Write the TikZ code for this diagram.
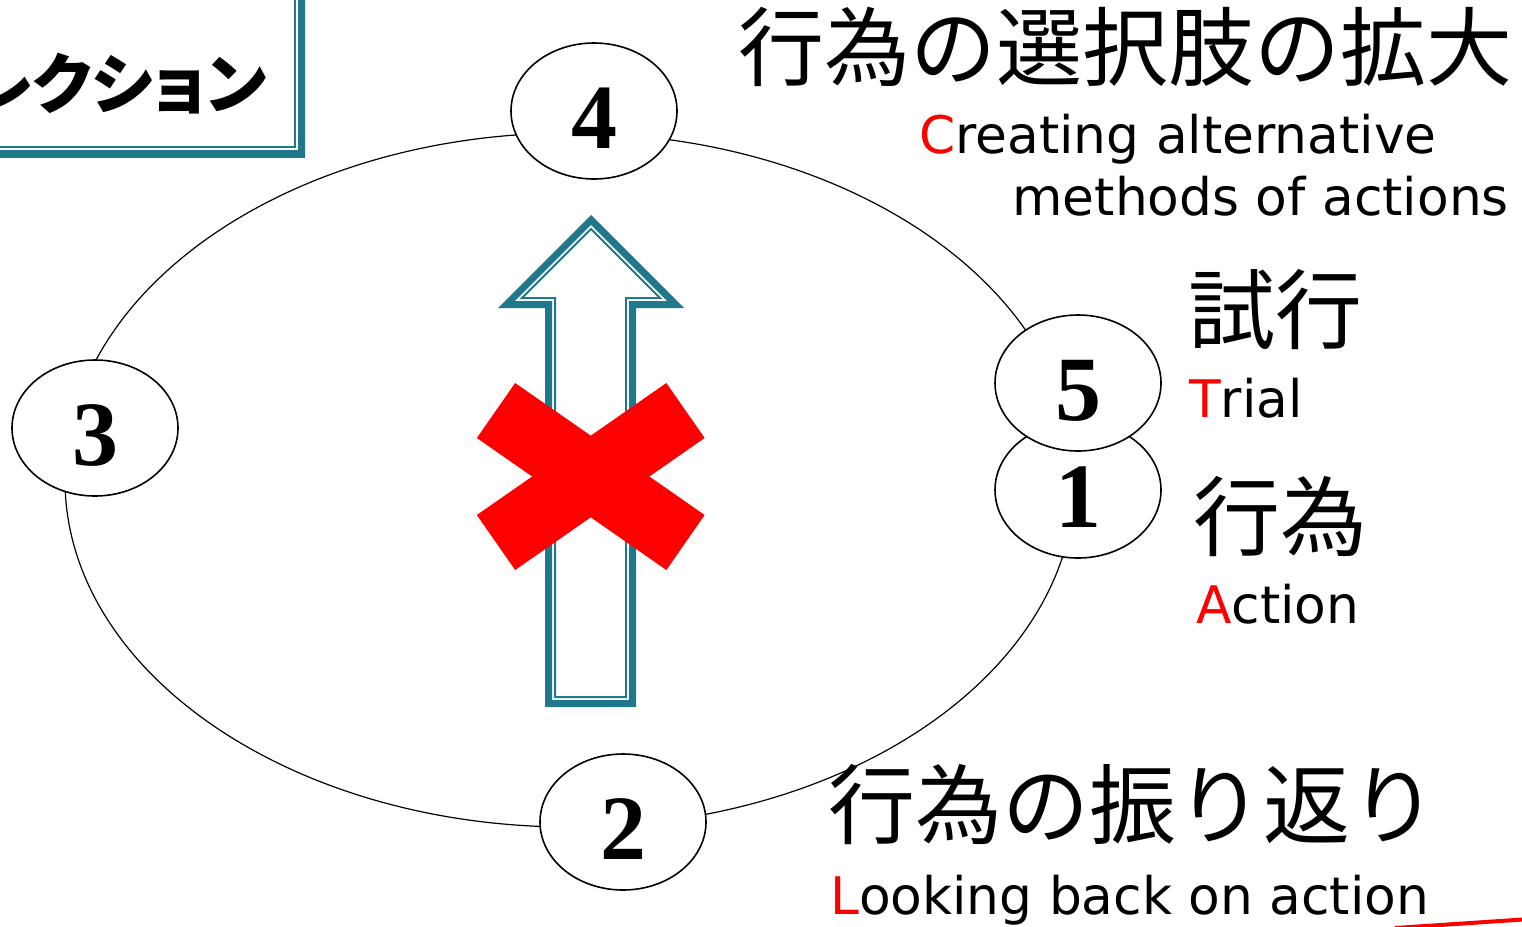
\documentclass[tikz,border=0pt]{standalone}
\usepackage{fontspec}
\setmainfont{DejaVu Sans}
\newfontfamily\jpfont{Noto Sans CJK JP}
\newfontfamily\jpboxfont{Noto Sans CJK JP}[RawFeature=+palt]
\newfontfamily\numfont{Liberation Serif}
\usetikzlibrary{shapes.geometric}
\definecolor{frameteal}{RGB}{31,120,140}
\begin{document}
\begin{tikzpicture}[x=1pt,y=-1pt,
  numnode/.style={ellipse, draw, line width=1.6pt, fill=white, minimum width=166pt, minimum height=136pt, inner sep=0pt, text height=74pt, text depth=0pt, font=\numfont\bfseries\fontsize{92}{92}\selectfont},
  jp/.style={anchor=base west, inner sep=0pt, font=\jpfont\fontsize{87}{87}\selectfont},
  en/.style={anchor=base west, inner sep=0pt, font=\fontsize{51.8}{52}\selectfont},
  thickframe/.style={draw=frameteal, line width=14pt},
  thinframe/.style={draw=frameteal, line width=2pt},
  cross/.style={draw=red, line width=67pt},
]
\useasboundingbox (0,0) rectangle (1522,926);
\fill[white] (0,0) rectangle (1522,926);

% title box (cut off at the top left)
\begin{scope}
  \clip (-60,-60) rectangle (305,157);
  \path[thickframe, rounded corners=3pt] (-60,-60) rectangle (305,157);
\end{scope}
\path[thinframe] (-60,-60) rectangle (295,147);
\node[anchor=base east, inner sep=0pt, font=\jpboxfont\bfseries\fontsize{66}{66}\selectfont] (title) at (267,108) {レクション};

% big cycle
\node[ellipse, draw, line width=1.2pt, minimum width=1010pt, minimum height=694pt, inner sep=0pt] (cycle) at (570,480) {};

% block arrow
\begin{scope}
  \clip (545,707) -- (545,308) -- (498,308) -- (591,215) -- (684,308) -- (636,308) -- (636,707) -- cycle;
  \path[thickframe] (545,707) -- (545,308) -- (498,308) -- (591,215) -- (684,308) -- (636,308) -- (636,707) -- cycle;
\end{scope}
\path[thinframe] (555,697) -- (555,298) -- (522,298) -- (591,229) -- (660,298) -- (626,298) -- (626,697) -- cycle;

% red cross
\path[cross] (496,410.5) -- (685.5,542.5);
\path[cross] (685.5,410.5) -- (496,542.5);

% numbered nodes
\node[numnode] (n4) at (594,111) {4};
\node[numnode] (n3) at (95,428) {3};
\node[numnode] (n1) at (1078,490) {1};
\node[numnode] (n5) at (1078,383) {5};
\node[numnode] (n2) at (623,822) {2};

% labels
\node[jp, font=\jpfont\fontsize{86}{86}\selectfont] (t4) at (738,79) {行為の選択肢の拡大};
\node[en] (e4a) at (919,153) {{\color{red}C}reating alternative};
\node[en, anchor=base east] (e4b) at (1509,215) {methods of actions};
\node[jp] (t5) at (1188,342) {試行};
\node[en] (e5) at (1189,417) {{\color{red}T}rial};
\node[jp] (t1) at (1193,549) {行為};
\node[en] (e1) at (1196,623) {{\color{red}A}ction};
\node[jp] (t2) at (828,837) {行為の振り返り};
\node[en] (e2) at (830,914) {{\color{red}L}ooking back on action};

% red stroke at the bottom right edge
\draw[red, line width=4pt] (1395,928) -- (1545,918);
\end{tikzpicture}
\end{document}
